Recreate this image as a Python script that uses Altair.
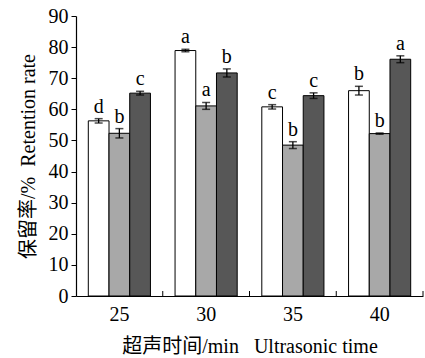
import altair as alt
import pandas as pd

times = ["25", "30", "35", "40"]
series = ["s1", "s2", "s3"]
values = {
    "s1": [56.3, 78.9, 60.8, 66.0],
    "s2": [52.3, 61.1, 48.5, 52.2],
    "s3": [65.2, 71.7, 64.4, 76.1],
}
errors = {
    "s1": [0.7, 0.4, 0.7, 1.4],
    "s2": [1.5, 1.1, 1.1, 0.2],
    "s3": [0.6, 1.3, 0.9, 1.1],
}
letters = {
    "s1": ["d", "a", "c", "b"],
    "s2": ["b", "a", "b", "b"],
    "s3": ["c", "b", "c", "a"],
}
colors = ["#ffffff", "#a8a8a8", "#575757"]
y_ticks = [0, 10, 20, 30, 40, 50, 60, 70, 80, 90]

rows = []
for s in series:
    for i, t in enumerate(times):
        v = values[s][i]
        e = errors[s][i]
        rows.append({"time": t, "series": s, "value": v, "lo": v - e, "hi": v + e,
                     "letter": letters[s][i]})
df = pd.DataFrame(rows)
tick_df = pd.DataFrame({"time": times})

FONT = "Times New Roman, Liberation Serif, DejaVu Serif, Noto Sans CJK SC, serif"

xscale = alt.Scale(paddingInner=0, paddingOuter=0)
xoff_scale = alt.Scale(paddingInner=0, paddingOuter=0.594)
x_axis = alt.Axis(title="超声时间/min\u00a0\u00a0\u00a0Ultrasonic time", labelAngle=0,
                  ticks=False, labelPadding=8, titlePadding=12)
x_enc = alt.X("time:N", scale=xscale, sort=times, axis=x_axis)
xo = alt.XOffset("series:N", scale=xoff_scale, sort=series)
yscale = alt.Scale(domain=[0, 90], nice=False)
y_axis = alt.Axis(title="保留率/%\u00a0\u00a0Retention rate", values=y_ticks,
                  grid=False, tickSize=5, labelPadding=3, titlePadding=10,
                  labelOverlap=False)

base = alt.Chart(df)

bars = base.mark_bar(stroke="black", strokeWidth=1).encode(
    x=x_enc, xOffset=xo, y=alt.Y("value:Q", scale=yscale, axis=y_axis),
    fill=alt.Fill("series:N", scale=alt.Scale(domain=series, range=colors), legend=None),
)
err_rule = base.mark_rule(color="black", strokeWidth=1.3).encode(
    x=x_enc, xOffset=xo,
    y=alt.Y("lo:Q", scale=yscale, axis=y_axis), y2="hi:Q",
)
cap_lo = base.mark_tick(color="black", size=8, thickness=1.5).encode(
    x=x_enc, xOffset=xo, y=alt.Y("lo:Q", scale=yscale, axis=y_axis))
cap_hi = base.mark_tick(color="black", size=8, thickness=1.5).encode(
    x=x_enc, xOffset=xo, y=alt.Y("hi:Q", scale=yscale, axis=y_axis))
labels = base.mark_text(font=FONT, fontSize=20, baseline="bottom", dy=-2, color="black").encode(
    x=x_enc, xOffset=xo, y=alt.Y("hi:Q", scale=yscale, axis=y_axis), text="letter:N")

band_ticks = alt.Chart(tick_df).mark_rule(color="black", strokeWidth=1).encode(
    x=alt.X("time:N", sort=times, scale=xscale, axis=x_axis, bandPosition=1),
    y=alt.value(280), y2=alt.value(275),
)

chart = alt.layer(bars, err_rule, cap_lo, cap_hi, labels, band_ticks).properties(
    width=347, height=280,
    autosize=alt.AutoSizeParams(type="none"),
    padding={"left": 76, "top": 16, "right": 2, "bottom": 62},
).configure_view(stroke=None).configure_axis(
    domainColor="black", tickColor="black", labelColor="black", titleColor="black",
    labelFont=FONT, titleFont=FONT, labelFontSize=20, titleFontSize=20,
    titleFontWeight="normal", domainWidth=1.2,
)

chart.save("out.html", embed_options={"renderer": "svg", "actions": False})
